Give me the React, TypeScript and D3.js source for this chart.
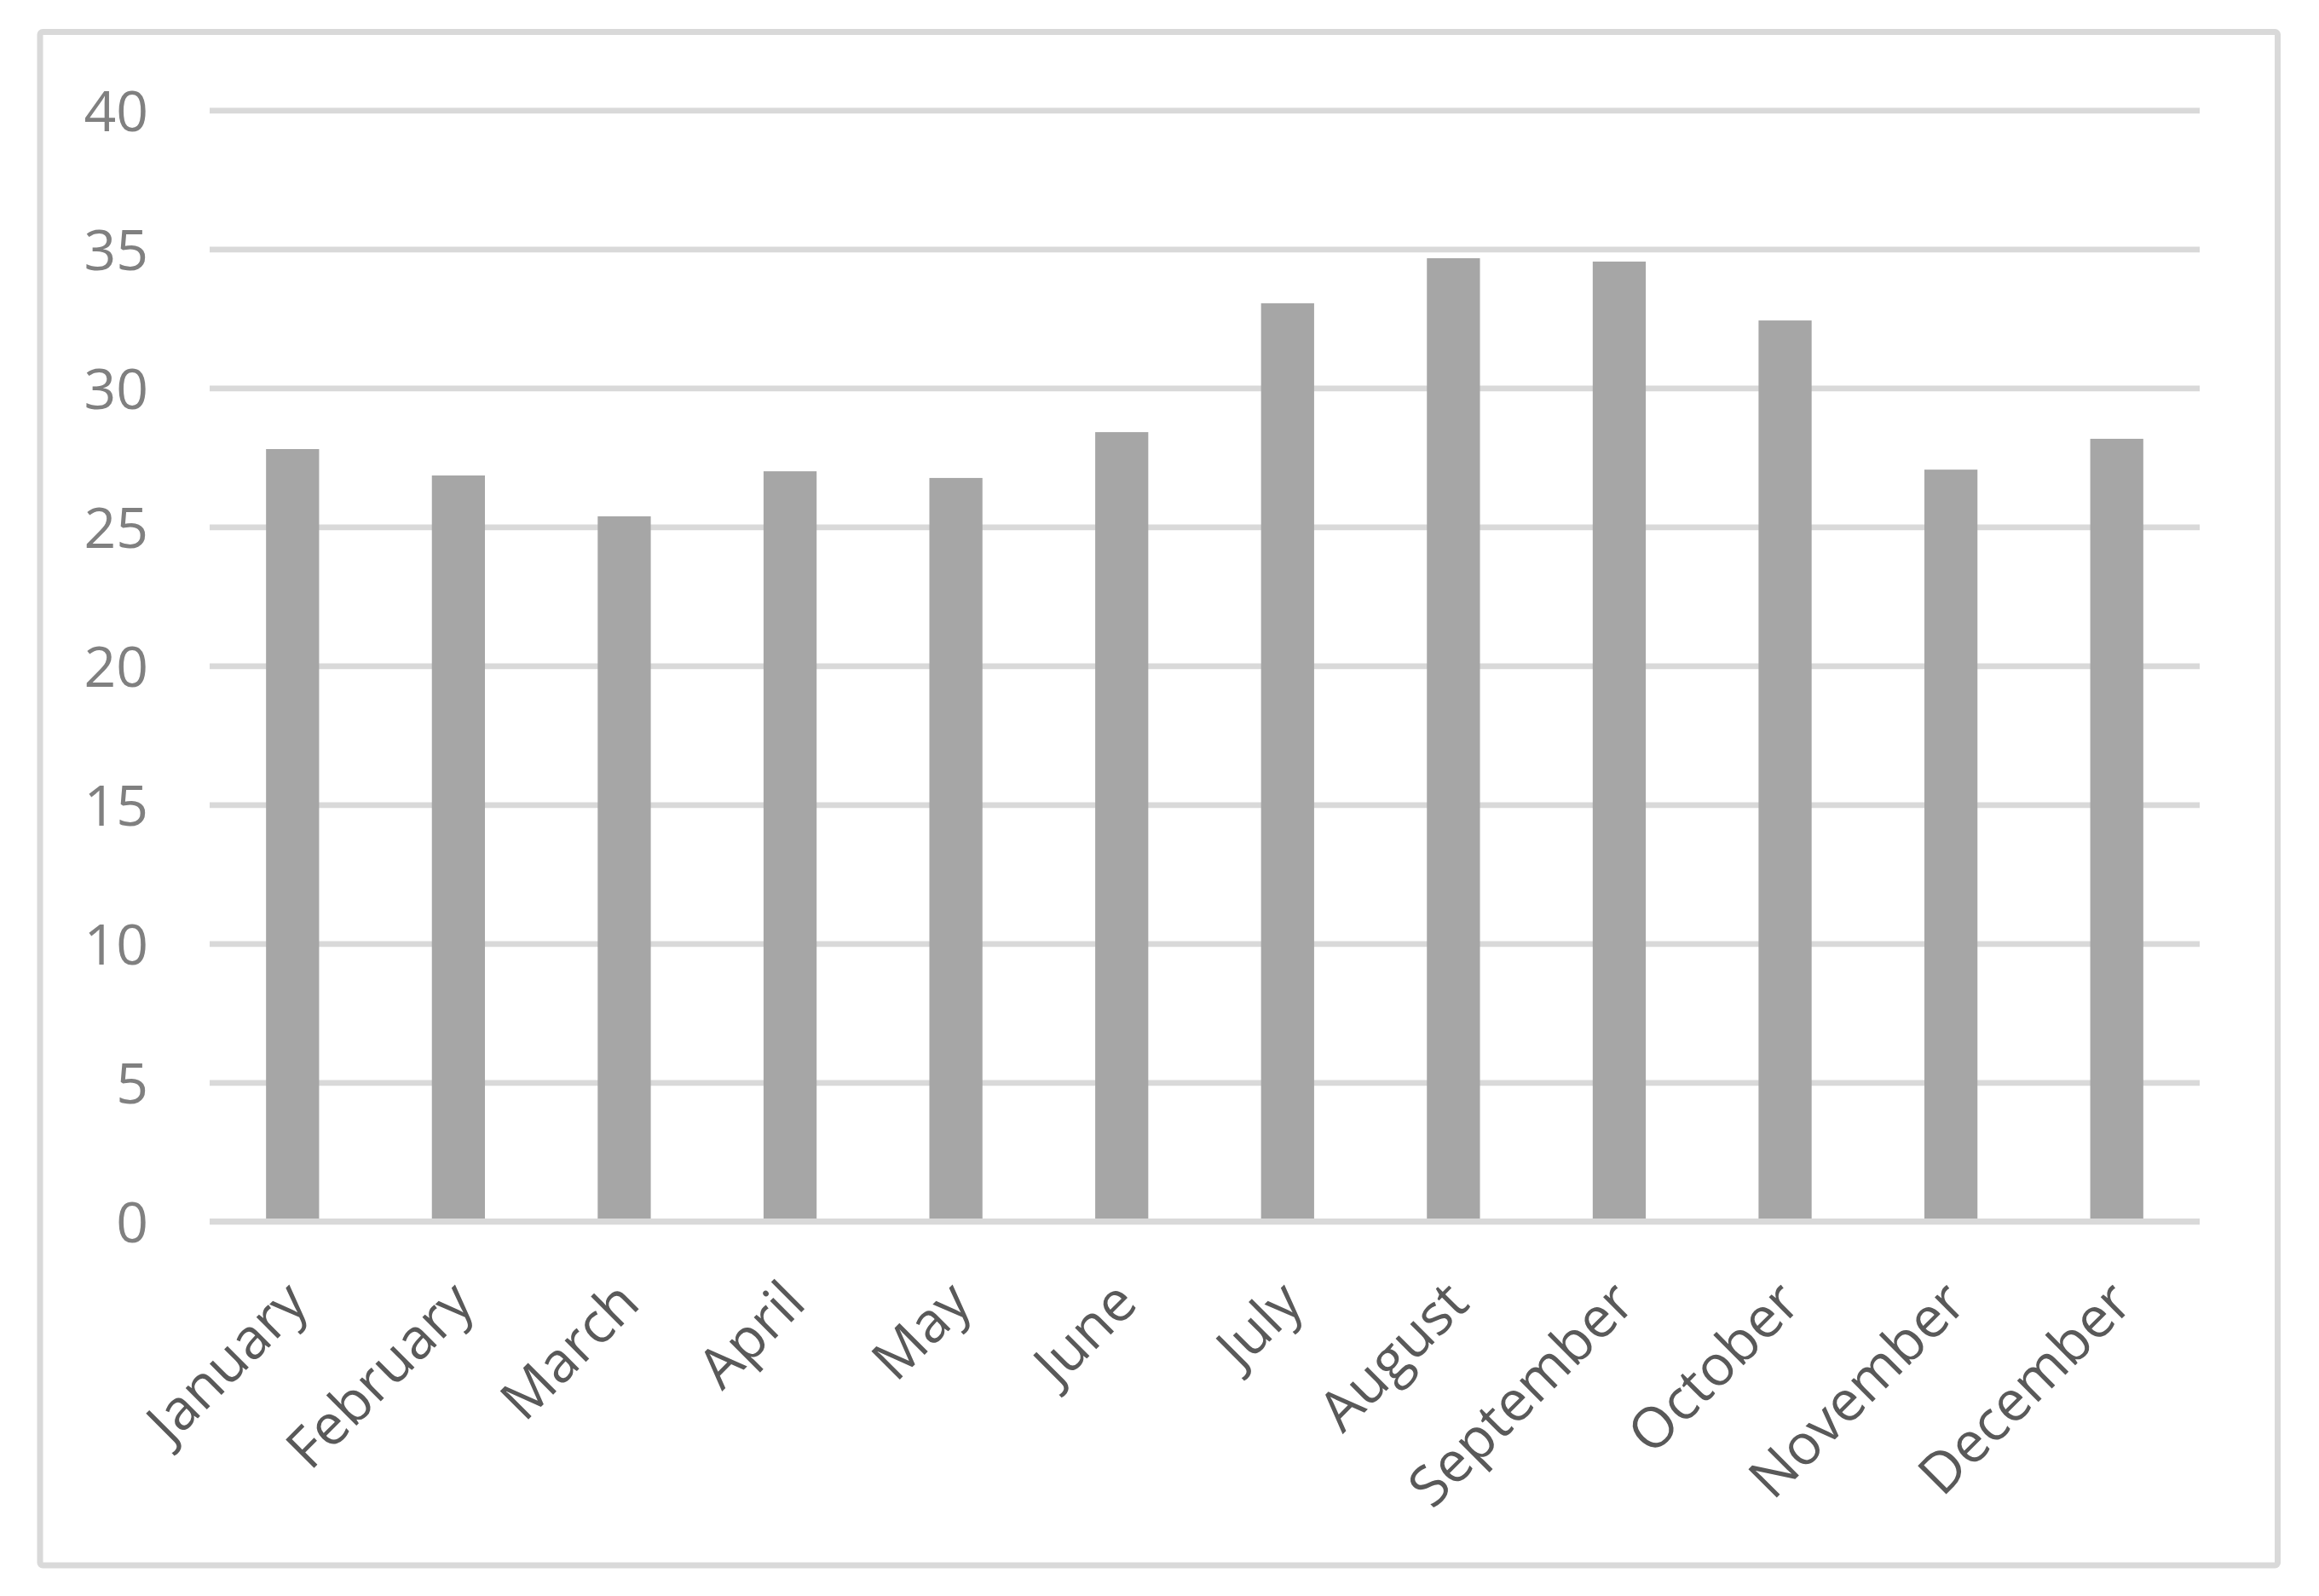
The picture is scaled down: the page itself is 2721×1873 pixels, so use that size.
import * as d3 from "d3";
import { useRef, useEffect } from "react";

const months = [
  "January", "February", "March", "April", "May", "June",
  "July", "August", "September", "October", "November", "December",
];
const values = [27.8, 26.85, 25.38, 27.0, 26.76, 28.41, 33.05, 34.67, 34.55, 32.43, 27.06, 28.17];
const yTicks = [0, 5, 10, 15, 20, 25, 30, 35, 40];

const App = () => {
  const container = useRef<SVGSVGElement | null>(null);

  useEffect(() => {
    drawChart();
  });

  const drawChart = () => {
    const svg = d3.select(container.current);
    svg.selectAll("*").remove();

    const dims = { width: 2721, height: 1873 };
    const plot = { l: 246, r: 2581, t: 129.3, b: 1433.3 };
    const grid_color = "#d9d9d9";
    const font = "'Open Sans', 'Noto Sans', sans-serif";

    // outer frame
    svg
      .append("rect")
      .attr("x", 47)
      .attr("y", 37.5)
      .attr("width", 2625.5)
      .attr("height", 1799.5)
      .attr("rx", 3)
      .attr("fill", "#ffffff")
      .attr("stroke", grid_color)
      .attr("stroke-width", 7);

    const xScale = d3
      .scaleBand<string>()
      .domain(months)
      .range([plot.l, plot.r])
      .paddingInner(0.68)
      .paddingOuter(0.34);

    const yScale = d3.scaleLinear().domain([0, 40]).range([plot.b, plot.t]);

    // y axis with gridlines
    const yaxis = d3
      .axisLeft(yScale)
      .tickValues(yTicks)
      .tickSize(-(plot.r - plot.l))
      .tickPadding(72)
      .tickFormat(d3.format("d"));

    const yaxisg = svg
      .append("g")
      .attr("class", "yaxis-g")
      .attr("transform", `translate(${plot.l},0)`)
      .call(yaxis);
    yaxisg.select(".domain").remove();
    yaxisg.selectAll("line").attr("stroke", grid_color).attr("stroke-width", 6.7);
    yaxisg
      .selectAll("text")
      .attr("fill", "#808080")
      .attr("font-family", font)
      .attr("font-size", 66)
      .attr("dy", "0.36em");

    // bars
    svg
      .append("g")
      .selectAll("rect")
      .data(values)
      .join("rect")
      .attr("x", (d, i) => xScale(months[i]) as number)
      .attr("width", xScale.bandwidth())
      .attr("y", (d) => yScale(d))
      .attr("height", (d) => yScale(0) - yScale(d))
      .attr("fill", "#a6a6a6");

    // baseline drawn over bars
    svg
      .append("line")
      .attr("x1", plot.l)
      .attr("x2", plot.r)
      .attr("y1", yScale(0))
      .attr("y2", yScale(0))
      .attr("stroke", grid_color)
      .attr("stroke-width", 6.7);

    // x axis labels
    const xaxis = d3.axisBottom(xScale).tickSize(0);
    const xaxisg = svg
      .append("g")
      .attr("class", "xaxis-g")
      .attr("transform", `translate(0,${plot.b})`)
      .call(xaxis);
    xaxisg.select(".domain").remove();
    xaxisg
      .selectAll("text")
      .attr("x", 0)
      .attr("y", 0)
      .attr("dy", 0)
      .attr("transform", "translate(21,99) rotate(-45)")
      .attr("text-anchor", "end")
      .attr("fill", "#595959")
      .attr("font-family", font)
      .attr("font-size", 66);
  };

  return (
    <svg
      ref={container}
      width={2721}
      height={1873}
      style={{ position: "absolute", left: 0, top: 0, background: "#ffffff" }}
    ></svg>
  );
};

export default App;
